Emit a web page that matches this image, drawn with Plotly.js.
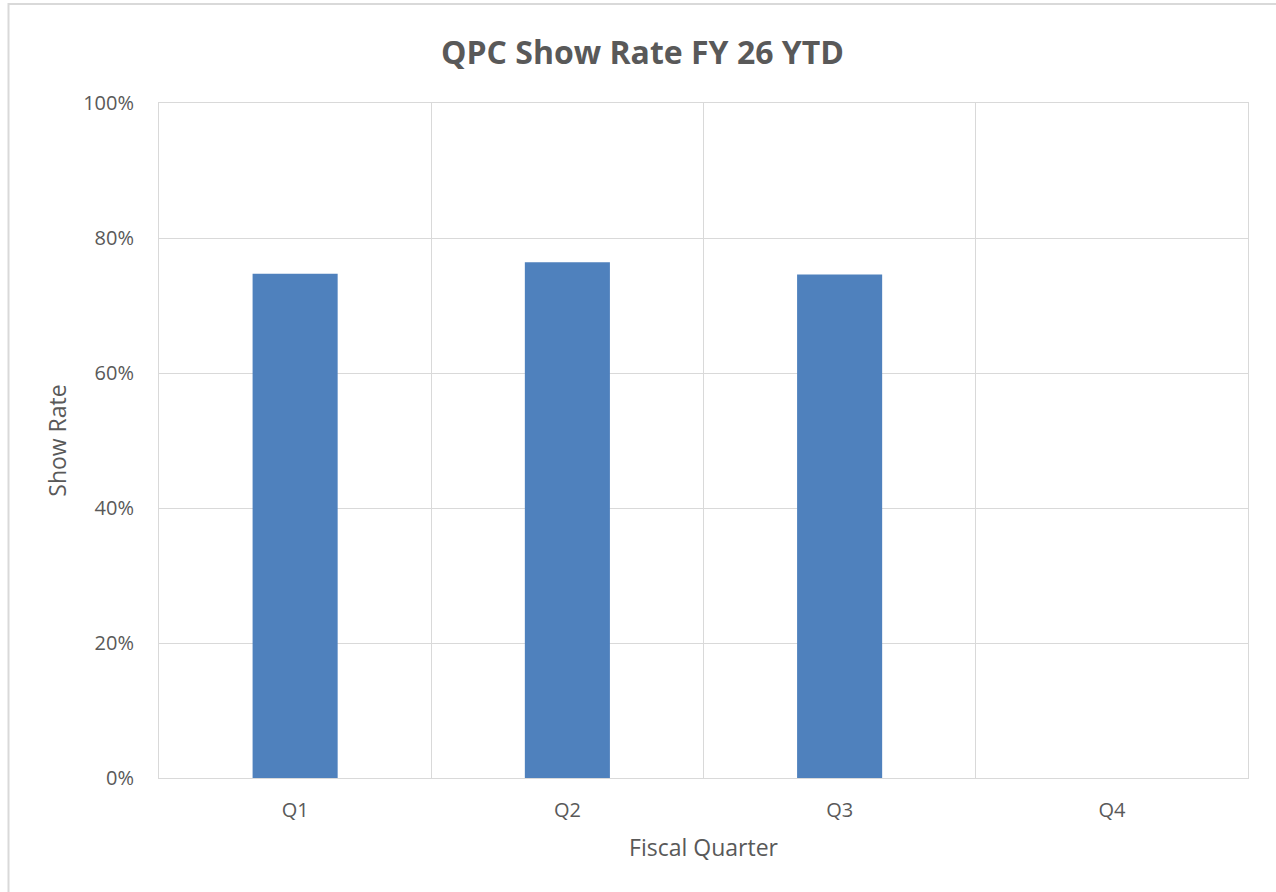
<!DOCTYPE html>
<html>
<head>
<meta charset="utf-8">
<script src="https://cdn.plot.ly/plotly-3.0.1.min.js"></script>
<style>html,body{margin:0;padding:0;background:#fff;}#chart{width:1276px;height:892px;}</style>
</head>
<body>
<div id="chart"></div>
<script>
var quarters = ["Q1", "Q2", "Q3", "Q4"];
var showRate = [0.747, 0.764, 0.746, null];
var yTickVals = [0, 0.2, 0.4, 0.6, 0.8, 1.0];
var yTickText = ["0%", "20%", "40%", "60%", "80%", "100%"];

var FONT = "Open Sans, Noto Sans, sans-serif";
var W = 1276, H = 892, L = 159, R = 1248, T = 103, B = 778;
var pw = R - L, ph = B - T;

var trace = {
  type: "bar",
  x: quarters,
  y: showRate,
  width: 0.3125,
  marker: {color: "#4f81bd", line: {width: 0}},
  hoverinfo: "x+y"
};

var layout = {
  width: W, height: H,
  margin: {l: L, r: W - R, t: T, b: H - B, pad: 0},
  paper_bgcolor: "#ffffff",
  plot_bgcolor: "#ffffff",
  showlegend: false,
  font: {family: FONT, color: "#595959", size: 20},
  title: {
    text: "<b>QPC Show Rate FY 26 YTD</b>",
    font: {family: FONT, size: 32, color: "#595959"},
    x: 642.5 / W, xref: "container", xanchor: "center",
    y: 1 - 53 / H, yref: "container", yanchor: "middle"
  },
  xaxis: {
    type: "category",
    range: [-0.5, 3.5],
    tickson: "boundaries",
    showgrid: true,
    gridcolor: "#d9d9d9",
    gridwidth: 1,
    showline: true,
    linecolor: "#d9d9d9",
    linewidth: 1,
    mirror: true,
    ticks: "",
    ticklabelstandoff: 14,
    tickfont: {family: FONT, size: 20, color: "#595959"},
    title: {text: "Fiscal Quarter", font: {family: FONT, size: 23, color: "#595959"}, standoff: 17},
    fixedrange: true
  },
  yaxis: {
    range: [0, 1],
    tickvals: yTickVals,
    ticktext: yTickText,
    showgrid: true,
    gridcolor: "#d9d9d9",
    gridwidth: 1,
    zeroline: false,
    showline: true,
    linecolor: "#d9d9d9",
    linewidth: 1,
    mirror: true,
    ticks: "",
    ticklabelstandoff: 20,
    tickfont: {family: FONT, size: 20, color: "#595959"},
    title: {text: "Show Rate", font: {family: FONT, size: 23, color: "#595959"}, standoff: 10},
    fixedrange: true
  },
  shapes: [{
    type: "rect", xref: "paper", yref: "paper",
    x0: (8.5 - L) / pw, x1: (1300 - L) / pw,
    y0: (B - 920) / ph, y1: 1 + (T - 4) / ph,
    line: {color: "#d9d9d9", width: 2},
    fillcolor: "rgba(0,0,0,0)",
    layer: "below"
  }]
};

Plotly.newPlot("chart", [trace], layout, {displayModeBar: false, responsive: false});
</script>
</body>
</html>
